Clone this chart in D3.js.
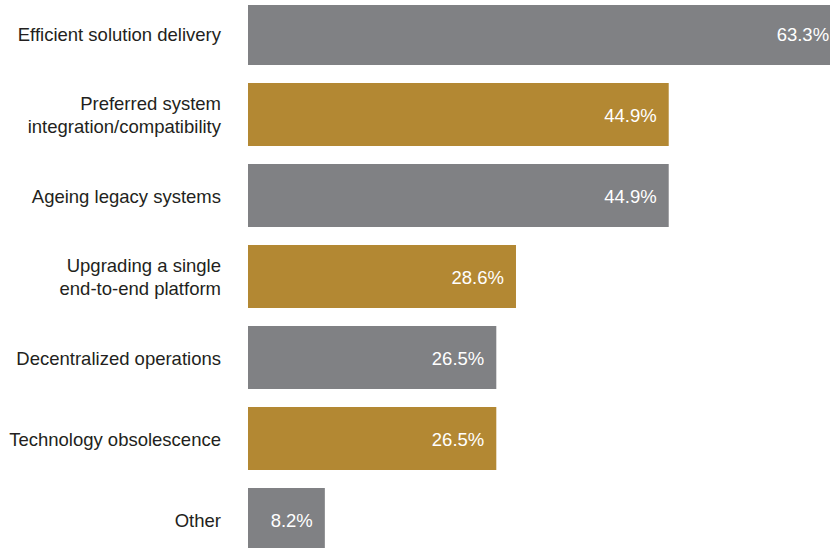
<!DOCTYPE html>
<html>
<head>
<meta charset="utf-8">
<script src="https://cdn.jsdelivr.net/npm/d3@7"></script>
<style>
  html, body { margin: 0; padding: 0; background: #ffffff; overflow: hidden; }
  svg { display: block; }
  text { font-family: "Liberation Sans", Arial, Helvetica, sans-serif; }
</style>
</head>
<body>
<svg id="chart" width="830" height="548"></svg>
<script>
// Drivers behind the change, share of respondents (%)
const categories = [
  "Efficient solution delivery",
  "Preferred system integration/compatibility",
  "Ageing legacy systems",
  "Upgrading a single end-to-end platform",
  "Decentralized operations",
  "Technology obsolescence",
  "Other"
];
const categoryLines = [
  ["Efficient solution delivery"],
  ["Preferred system", "integration/compatibility"],
  ["Ageing legacy systems"],
  ["Upgrading a single", "end-to-end platform"],
  ["Decentralized operations"],
  ["Technology obsolescence"],
  ["Other"]
];
const values = [63.3, 44.9, 44.9, 28.6, 26.5, 26.5, 8.2];
const barColors = ["#808184", "#b38833"];

const svg = d3.select("#chart");

// plot area is framed by a small white margin at the top
svg.append("defs").append("clipPath")
  .attr("id", "plot-clip")
  .append("rect")
  .attr("x", 0).attr("y", 5)
  .attr("width", 830).attr("height", 548);

const x = d3.scaleLinear().domain([0, 100]).range([248, 248 + 937]);
const y = d3.scaleBand()
  .domain(categories)
  .range([-7, 560])
  .paddingInner(18 / 81)
  .paddingOuter(9 / 81);

const rows = svg.append("g")
  .attr("clip-path", "url(#plot-clip)")
  .selectAll("g.row")
  .data(categories)
  .join("g")
  .attr("class", "row");

rows.append("rect")
  .attr("x", x(0))
  .attr("y", d => y(d))
  .attr("width", (d, i) => x(values[i]) - x(0))
  .attr("height", y.bandwidth())
  .attr("fill", (d, i) => barColors[i % 2]);

rows.append("text")
  .attr("x", (d, i) => x(values[i]) - 12)
  .attr("y", d => y(d) + y.bandwidth() / 2 + 1)
  .attr("dy", "0.35em")
  .attr("text-anchor", "end")
  .attr("fill", "#ffffff")
  .attr("font-size", 18.5)
  .text((d, i) => d3.format(".1f")(values[i]) + "%");

const lineGap = 23;
rows.append("text")
  .attr("text-anchor", "end")
  .attr("fill", "#231f20")
  .attr("font-size", 18.5)
  .each(function (d, i) {
    const lines = categoryLines[i];
    const cy = y(d) + y.bandwidth() / 2 + 1;
    const t = d3.select(this);
    lines.forEach((ln, k) => {
      t.append("tspan")
        .attr("x", 221)
        .attr("y", cy + (k - (lines.length - 1) / 2) * lineGap)
        .attr("dy", "0.35em")
        .text(ln);
    });
  });
</script>
</body>
</html>
